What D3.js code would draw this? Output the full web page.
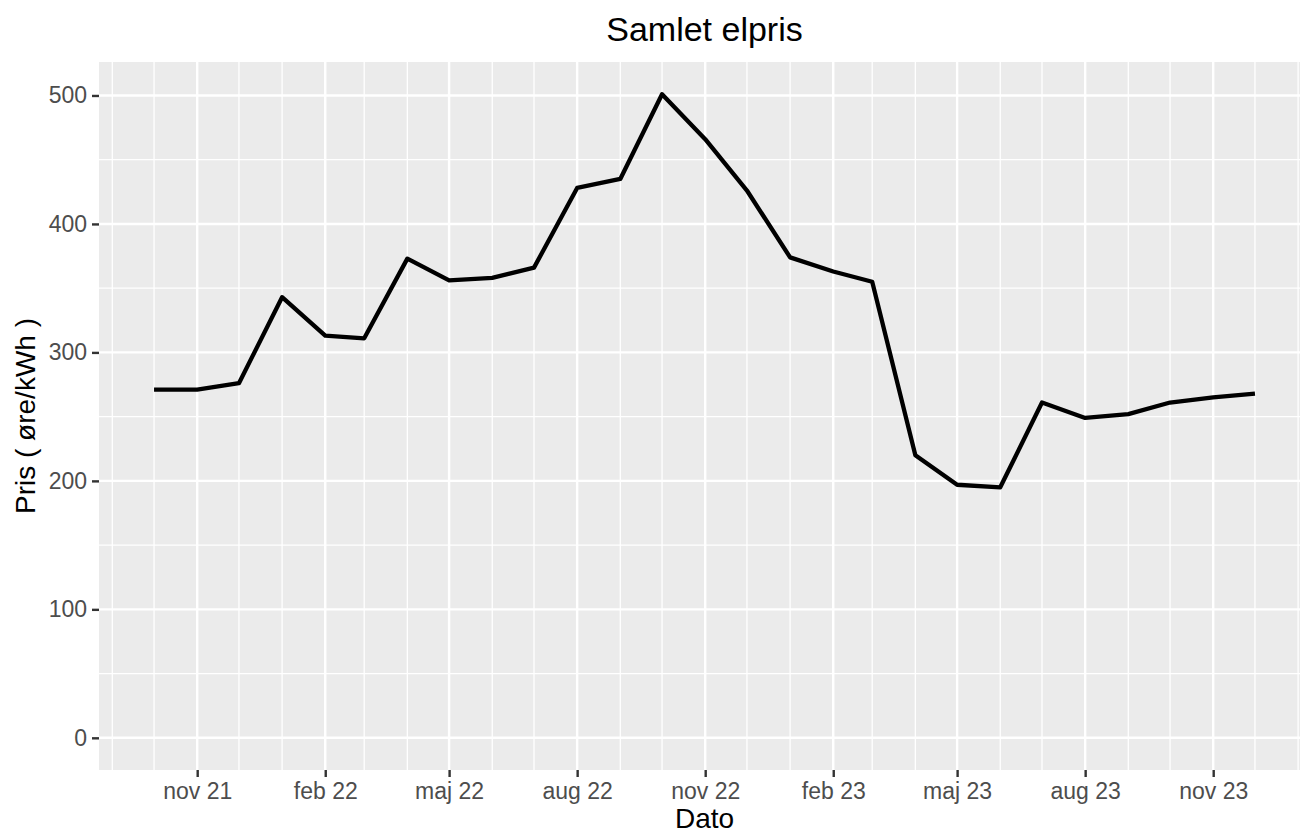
<!DOCTYPE html>
<html>
<head>
<meta charset="utf-8">
<script src="https://cdn.jsdelivr.net/npm/d3@7"></script>
<style>
  body { margin: 0; background: #fff; }
  text { font-family: "Liberation Sans", Arial, sans-serif; }
</style>
</head>
<body>
<div id="chart"></div>
<script>
// Data: monthly total electricity price
const months = ["2021-10", "2021-11", "2021-12", "2022-01", "2022-02", "2022-03", "2022-04",
    "2022-05", "2022-06", "2022-07", "2022-08", "2022-09", "2022-10", "2022-11", "2022-12",
    "2023-01", "2023-02", "2023-03", "2023-04", "2023-05", "2023-06", "2023-07", "2023-08",
    "2023-09", "2023-10", "2023-11", "2023-12"];
const prices = [271, 271, 276, 343, 313, 311, 373, 356, 358, 366, 428, 435, 501, 466, 426,
    374, 363, 355, 220, 197, 195, 261, 249, 252, 261, 265, 268];

// tick labels (every 3 months)
const tickMonths = ["2021-11", "2022-02", "2022-05", "2022-08", "2022-11", "2023-02", "2023-05", "2023-08", "2023-11"];
const tickLabels = ["nov 21", "feb 22", "maj 22", "aug 22", "nov 22", "feb 23", "maj 23", "aug 23", "nov 23"];
const yTicks = [0, 100, 200, 300, 400, 500];
const yMinor = [50, 150, 250, 350, 450];

const parse = d3.utcParse("%Y-%m");
const data = months.map((m, i) => ({ date: parse(m), price: prices[i] }));

const width = 1300, height = 834;
const panel = { left: 99, right: 1310, top: 62, bottom: 770 };

const svg = d3.select("#chart").append("svg")
    .attr("width", width)
    .attr("height", height);

// x scale with ggplot style 5% expansion
const ext = d3.extent(data, d => d.date);
const pad = (ext[1] - ext[0]) * 0.05;
const x = d3.scaleUtc()
    .domain([new Date(+ext[0] - pad), new Date(+ext[1] + pad)])
    .range([panel.left, panel.right]);

const yMax = d3.max(prices);
const y = d3.scaleLinear()
    .domain([0 - yMax * 0.05, yMax * 1.05])
    .range([panel.bottom, panel.top]);

// panel background
svg.append("rect")
    .attr("x", panel.left)
    .attr("y", panel.top)
    .attr("width", panel.right - panel.left)
    .attr("height", panel.bottom - panel.top)
    .attr("fill", "#EBEBEB");

const grid = svg.append("g");
// minor x grid: every month
const minorX = d3.utcMonth.range(d3.utcMonth.floor(x.domain()[0]), x.domain()[1])
    .filter(d => x(d) >= panel.left);
grid.selectAll(".vminor")
    .data(minorX)
    .enter().append("line")
    .attr("x1", d => x(d)).attr("x2", d => x(d))
    .attr("y1", panel.top).attr("y2", panel.bottom)
    .attr("stroke", "#fff").attr("stroke-width", 1.3);
grid.selectAll(".hminor")
    .data(yMinor)
    .enter().append("line")
    .attr("x1", panel.left).attr("x2", panel.right)
    .attr("y1", d => y(d)).attr("y2", d => y(d))
    .attr("stroke", "#fff").attr("stroke-width", 1.3);
// major grid
grid.selectAll(".vmajor")
    .data(tickMonths.map(parse))
    .enter().append("line")
    .attr("x1", d => x(d)).attr("x2", d => x(d))
    .attr("y1", panel.top).attr("y2", panel.bottom)
    .attr("stroke", "#fff").attr("stroke-width", 2.4);
grid.selectAll(".hmajor")
    .data(yTicks)
    .enter().append("line")
    .attr("x1", panel.left).attr("x2", panel.right)
    .attr("y1", d => y(d)).attr("y2", d => y(d))
    .attr("stroke", "#fff").attr("stroke-width", 2.4);

// axes
const xAxis = svg.append("g")
    .attr("transform", "translate(0," + panel.bottom + ")")
    .call(d3.axisBottom(x)
        .tickValues(tickMonths.map(parse))
        .tickFormat((d, i) => tickLabels[i])
        .tickSize(7)
        .tickPadding(6));
const yAxis = svg.append("g")
    .attr("transform", "translate(" + panel.left + ",0)")
    .call(d3.axisLeft(y)
        .tickValues(yTicks)
        .tickSize(7)
        .tickPadding(5));
[xAxis, yAxis].forEach(a => {
    a.select(".domain").remove();
    a.selectAll(".tick line").attr("stroke", "#333").attr("stroke-width", 2.4);
    a.selectAll(".tick text")
        .attr("fill", "#4D4D4D")
        .style("font-size", "23px")
        .style("font-family", "'Liberation Sans', Arial, sans-serif");
});

// line
svg.append("path")
    .datum(data)
    .attr("fill", "none")
    .attr("stroke", "#000")
    .attr("stroke-width", 4.3)
    .attr("stroke-linejoin", "round")
    .attr("d", d3.line().x(d => x(d.date)).y(d => y(d.price)));

// titles
svg.append("text")
    .attr("x", (panel.left + panel.right) / 2)
    .attr("y", 41)
    .attr("text-anchor", "middle")
    .style("font-size", "34px")
    .text("Samlet elpris");
svg.append("text")
    .attr("x", (panel.left + panel.right) / 2)
    .attr("y", 828)
    .attr("text-anchor", "middle")
    .style("font-size", "28px")
    .text("Dato");
svg.append("text")
    .attr("transform", "translate(35," + ((panel.top + panel.bottom) / 2) + ") rotate(-90)")
    .attr("text-anchor", "middle")
    .style("font-size", "28px")
    .text("Pris ( øre/kWh )");
</script>
</body>
</html>
